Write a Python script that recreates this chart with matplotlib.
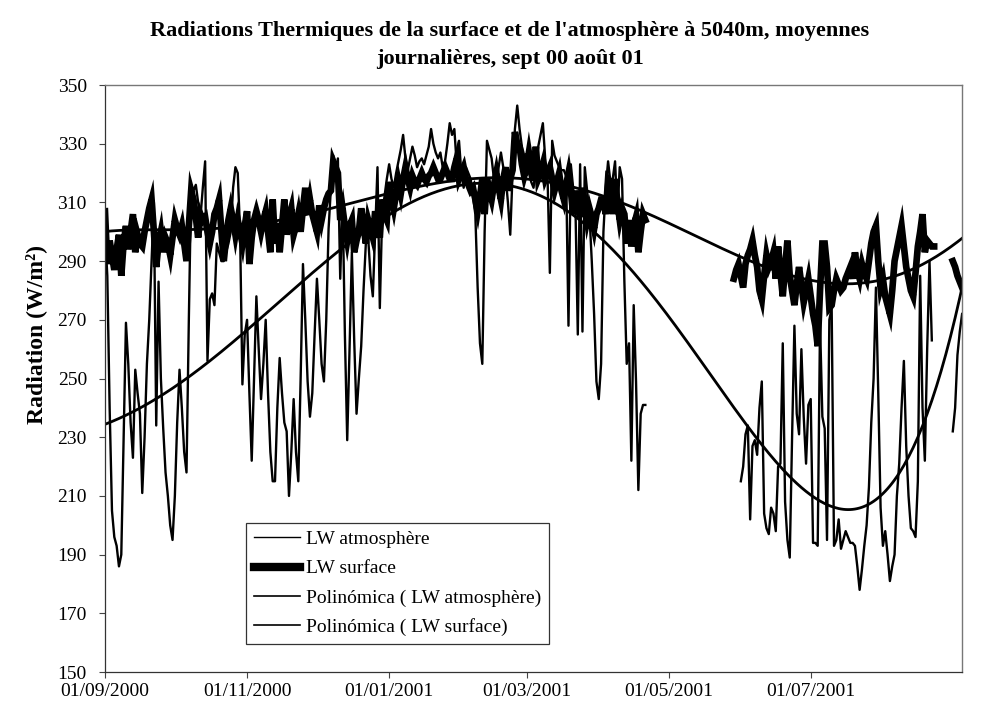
import numpy as np
import pandas as pd
import matplotlib
matplotlib.use('Agg')
import matplotlib.pyplot as plt
import matplotlib.dates as mdates
from matplotlib.lines import Line2D

# daily means, W/m2
# LW atmosphere: 01/09/2000 -> 21/04/2001, 01/06/2001 -> 22/08/2001, 31/08 -> 04/09/2001
atm_start = ['2000-09-01', '2001-06-01', '2001-08-31']
atm_1 = [300, 285, 240, 205, 196, 193, 186, 190, 230, 269,
         255, 235, 223, 253, 245, 238, 211, 230, 255, 270,
         290, 310, 234, 283, 250, 233, 218, 210, 200, 195,
         210, 235, 253, 240, 225, 218, 270, 316, 314, 316,
         310, 305, 315, 324, 256, 277, 279, 275, 296, 293,
         290, 290, 293, 296, 300, 315, 322, 320, 300, 248,
         265, 270, 245, 222, 250, 278, 260, 243, 255, 270,
         245, 225, 215, 215, 240, 257, 245, 235, 232, 210,
         225, 243, 225, 215, 250, 289, 270, 249, 237, 245,
         265, 284, 270, 255, 249, 270, 301, 315, 326, 320,
         325, 284, 312, 265, 229, 260, 293, 263, 238, 250,
         261, 280, 296, 298, 285, 278, 300, 322, 274, 306,
         312, 318, 323, 318, 315, 320, 324, 328, 333, 325,
         321, 325, 329, 326, 322, 324, 325, 323, 326, 329,
         335, 330, 327, 325, 327, 322, 324, 330, 337, 333,
         335, 323, 331, 320, 315, 322, 320, 318, 312, 306,
         281, 262, 255, 300, 331, 328, 325, 318, 314, 322,
         327, 322, 319, 310, 299, 320, 335, 343, 335, 329,
         326, 323, 320, 317, 315, 322, 329, 333, 337, 325,
         319, 286, 331, 326, 324, 322, 321, 321, 319, 268,
         323, 315, 308, 265, 323, 266, 322, 314, 306, 290,
         272, 249, 243, 255, 300, 315, 324, 317, 318, 324,
         306, 322, 318, 283, 255, 262, 222, 275, 249, 212,
         238, 241, 241]
atm_2 = [215, 220, 231, 234, 202, 227, 229, 224, 240, 249,
         204, 199, 197, 206, 204, 198, 220, 221, 262, 208,
         195, 189, 230, 268, 238, 231, 260, 237, 221, 241,
         243, 194, 194, 193, 269, 237, 233, 195, 270, 274,
         193, 195, 202, 192, 195, 198, 196, 194, 194, 193,
         186, 178, 185, 193, 200, 213, 235, 250, 281, 245,
         206, 193, 198, 190, 181, 186, 190, 210, 221, 240,
         256, 227, 210, 199, 198, 196, 215, 285, 240, 222,
         260, 290, 263]
atm_3 = [232, 240, 258, 266, 272]

# LW surface: 01/09/2000 -> 21/04/2001, 29/05/2001 -> 23/08/2001, 31/08 -> 04/09/2001
surf_start = ['2000-09-01', '2001-05-29', '2001-08-31']
surf_1 = [307, 289, 297, 292, 287, 294, 299, 285, 296, 302,
          294, 300, 306, 293, 299, 296, 295, 300, 304, 308,
          311, 300, 288, 296, 300, 293, 298, 296, 292, 298,
          304, 301, 299, 302, 296, 290, 302, 314, 311, 305,
          298, 306, 304, 305, 300, 296, 300, 306, 308, 311,
          300, 290, 298, 304, 308, 304, 299, 304, 300, 296,
          302, 307, 289, 298, 304, 307, 304, 300, 304, 307,
          300, 293, 311, 296, 303, 293, 302, 311, 299, 305,
          308, 299, 302, 306, 300, 308, 315, 306, 311, 306,
          303, 300, 309, 304, 308, 311, 313, 314, 324, 322,
          320, 304, 308, 302, 297, 302, 304, 293, 297, 300,
          308, 302, 296, 304, 301, 298, 307, 302, 298, 311,
          306, 304, 317, 312, 308, 313, 317, 313, 318, 322,
          318, 315, 319, 317, 316, 318, 320, 318, 317, 319,
          320, 322, 320, 318, 318, 320, 322, 320, 318, 318,
          322, 325, 318, 320, 322, 318, 316, 314, 315, 311,
          307, 312, 318, 306, 318, 314, 311, 316, 320, 315,
          311, 318, 322, 314, 318, 321, 334, 330, 329, 323,
          319, 322, 327, 322, 318, 329, 318, 320, 323, 318,
          320, 322, 318, 314, 317, 320, 314, 311, 316, 320,
          314, 306, 314, 310, 305, 315, 310, 304, 308, 305,
          301, 306, 308, 311, 311, 306, 318, 317, 306, 318,
          310, 304, 308, 306, 296, 304, 295, 302, 305, 293,
          300, 306, 304]
surf_2 = [284, 287, 289, 285, 281, 289, 292, 294, 297, 292,
          288, 280, 277, 285, 292, 288, 290, 293, 284, 295,
          286, 278, 288, 297, 285, 280, 275, 282, 288, 282,
          276, 280, 284, 278, 272, 268, 261, 280, 296, 296,
          288, 274, 275, 280, 284, 282, 280, 281, 284, 286,
          288, 284, 293, 287, 284, 289, 286, 284, 290, 296,
          300, 302, 290, 281, 284, 278, 275, 272, 280, 290,
          294, 298, 302, 295, 288, 284, 280, 278, 286, 295,
          300, 306, 293, 297, 296, 295, 295]
surf_3 = [290, 288, 285, 283, 281]

# trendline readings (days after 01/09/2000, W/m2)
atm_trend_day = [0, 32, 58, 73, 85, 100, 114, 128, 146, 159, 173, 187, 201, 219, 224,
                 245, 260, 274, 292, 304, 319, 327, 340, 350, 359, 368]
atm_trend_val = [234, 249.5, 266, 273, 280, 292.6, 304, 311, 314.5, 317, 316, 310, 304, 295, 289,
                 267.6, 250.5, 235.8, 220, 210, 205.5, 205.5, 215.6, 232.6, 253, 281]
surf_trend_day = [0, 35, 58, 71, 100, 114, 128, 146, 173, 187, 204, 219, 230, 245,
                  260, 274, 290, 304, 319, 333, 348, 357, 368]
surf_trend_val = [300, 301, 302, 303, 308, 311.4, 315, 317.6, 317.6, 317, 315, 311, 307.4, 301.7,
                  296, 290.4, 286.6, 283.6, 282.5, 283.6, 288, 290.4, 298.4]

x_ticks = ['2000-09-01', '2000-11-01', '2001-01-01', '2001-03-01', '2001-05-01', '2001-07-01']
y_ticks = list(range(150, 351, 20))

t0 = pd.Timestamp('2000-09-01')
t1 = pd.Timestamp('2001-09-04')
full = pd.date_range(t0, t1, freq='D')


def build_series(starts, segments):
  s = pd.Series(dtype=float)
  for start, vals in zip(starts, segments):
    idx = pd.date_range(start, periods=len(vals), freq='D')
    s = pd.concat([s, pd.Series(vals, index=idx, dtype=float)])
  return s.reindex(full)


def poly_trend(days, vals, deg=6):
  # sixth order polynomial, as the Excel "Polinómica" trendline
  p = np.polynomial.Polynomial.fit(days, vals, deg)
  d = (full - t0).days.values.astype(float)
  return pd.Series(p(d), index=full)


atm = build_series(atm_start, [atm_1, atm_2, atm_3])
surf = build_series(surf_start, [surf_1, surf_2, surf_3])
atm_tr = poly_trend(atm_trend_day, atm_trend_val)
surf_tr = poly_trend(surf_trend_day, surf_trend_val)

plt.rcParams['font.family'] = ['Liberation Serif', 'DejaVu Serif']

fig = plt.figure(figsize=(9.97, 7.23), dpi=100)
ax = fig.add_axes([0.1053, 0.0705, 0.8597, 0.8119])

ax.plot(atm.index, atm.values, color='black', lw=1.7)
ax.plot(surf.index, surf.values, color='black', lw=4.8, solid_joinstyle='miter')
ax.plot(atm_tr.index, atm_tr.values, color='black', lw=2.0)
ax.plot(surf_tr.index, surf_tr.values, color='black', lw=2.0)

ax.set_ylim(150, 350)
ax.set_yticks(y_ticks)
ax.set_xlim(t0, t1)
ax.set_xticks(pd.to_datetime(x_ticks))
ax.xaxis.set_major_formatter(mdates.DateFormatter('%d/%m/%Y'))
ax.tick_params(axis='both', labelsize=14, length=4, width=0.8, direction='out', color='#444444')
ax.tick_params(axis='y', pad=9)
ax.tick_params(axis='x', pad=4)

for side in ['left', 'bottom']:
  ax.spines[side].set_color('#333333')
  ax.spines[side].set_linewidth(0.9)
for side in ['top', 'right']:
  ax.spines[side].set_color('#777777')
  ax.spines[side].set_linewidth(1.0)

fig.text(0.036, 0.537, 'Radiation (W/m²)', rotation=90, ha='center', va='center',
         fontsize=17, fontweight='bold')
fig.text(0.5115, 0.9375,
         "Radiations Thermiques de la surface et de l'atmosphère à 5040m, moyennes\njournalières, sept 00 août 01",
         ha='center', va='center', fontsize=16, fontweight='bold', linespacing=1.5)

handles = [Line2D([], [], color='black', lw=1.0),
           Line2D([], [], color='black', lw=6.0),
           Line2D([], [], color='black', lw=1.2),
           Line2D([], [], color='black', lw=1.2)]
labels = ['LW atmosphère', 'LW surface', 'Polinómica ( LW atmosphère)', 'Polinómica ( LW surface)']
leg = ax.legend(handles, labels, loc='lower left', bbox_to_anchor=(0.1645, 0.0477),
                borderaxespad=0, fontsize=14, frameon=True, fancybox=False,
                handlelength=2.4, handletextpad=0.3, borderpad=0.4, labelspacing=0.6)
leg.get_frame().set_edgecolor('black')
leg.get_frame().set_linewidth(0.9)

fig.savefig('out.png', dpi=100)
